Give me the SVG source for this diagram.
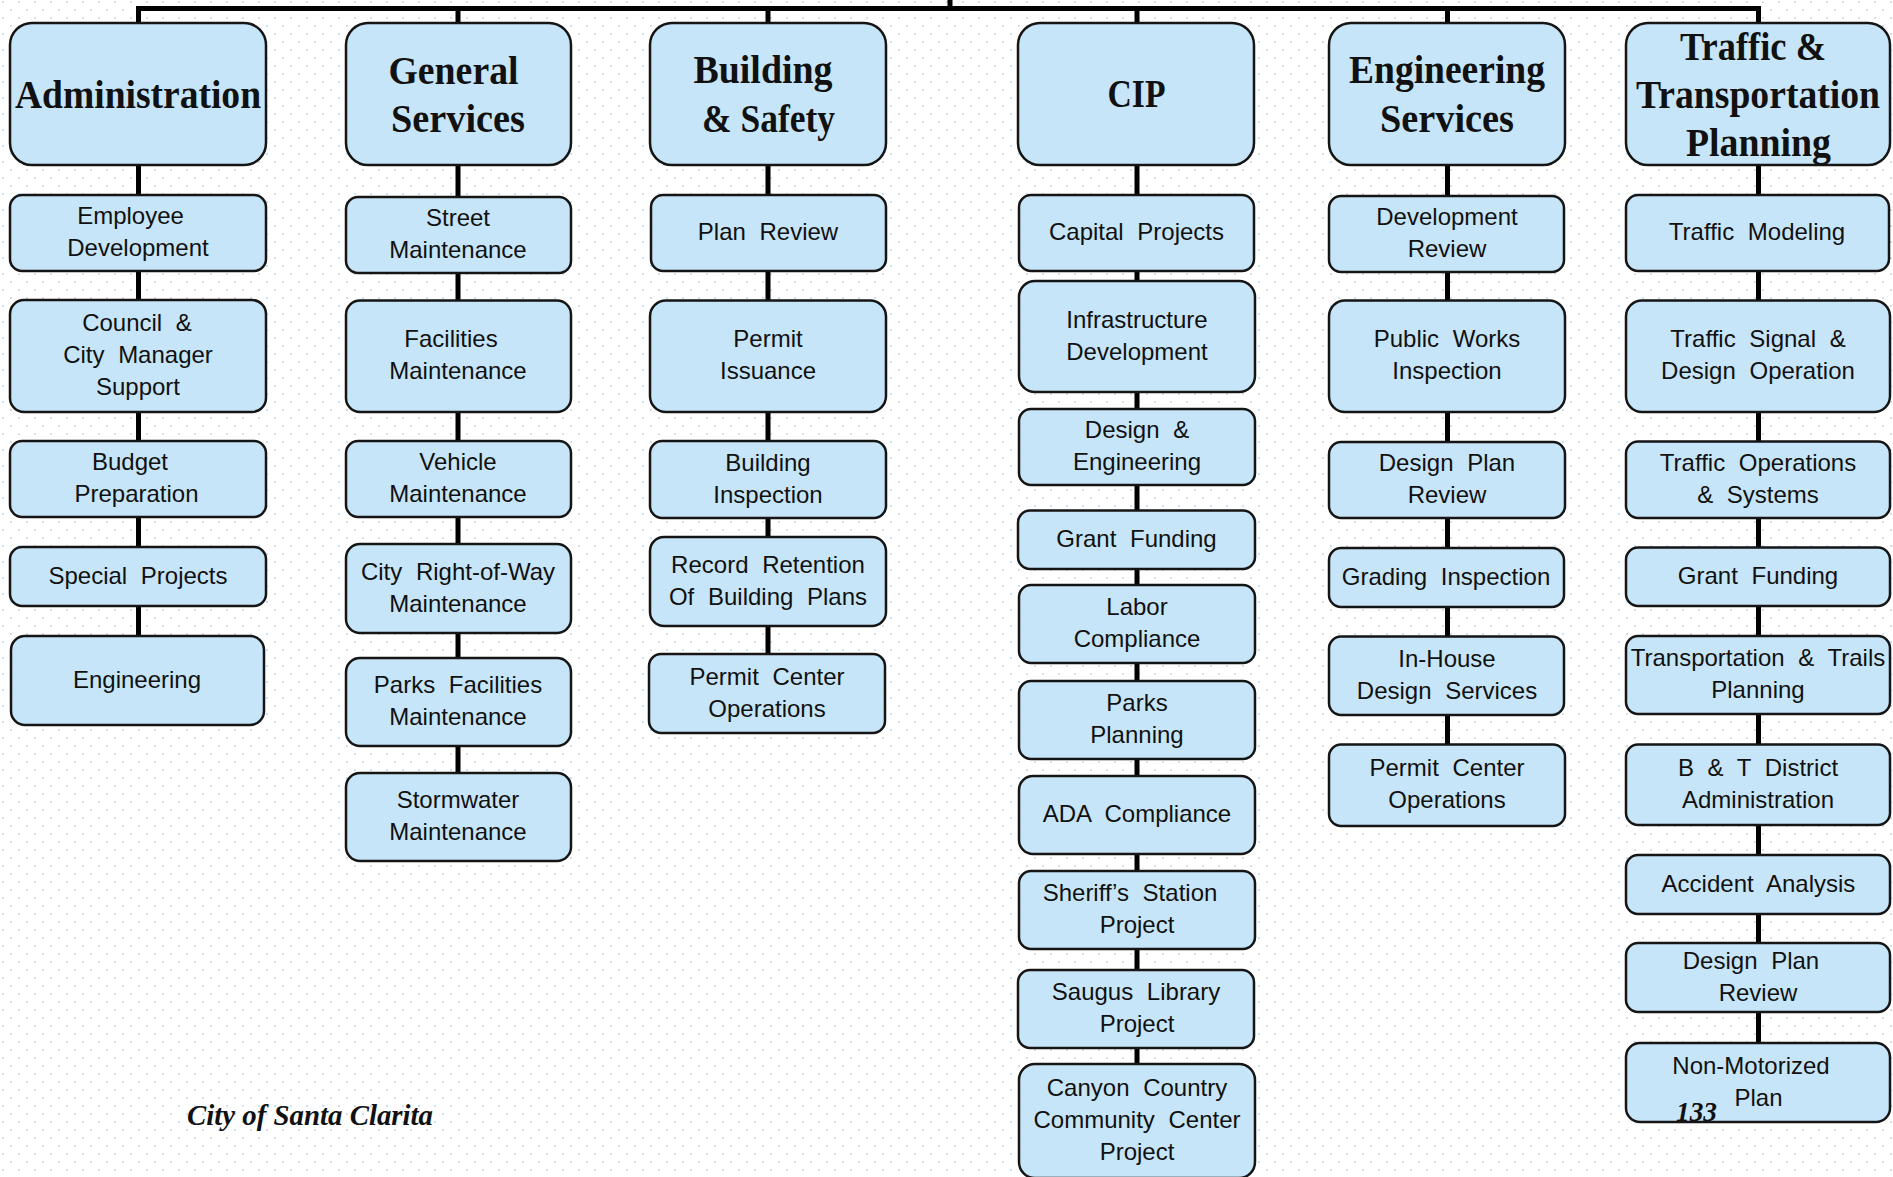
<svg xmlns="http://www.w3.org/2000/svg" width="1893" height="1177" viewBox="0 0 1893 1177">
  <defs>
    <pattern id="dots" width="16" height="16" patternUnits="userSpaceOnUse">
      <rect x="2" y="1" width="2" height="2" fill="#c9e3f5"/>
      <rect x="10" y="9" width="2" height="2" fill="#c9e3f5"/>
    </pattern>
    <style>
      .box { fill: #c7e5f8; stroke: #151515; stroke-width: 2.5; }
      .hd { font-family: "Liberation Serif", "Times New Roman", serif; font-weight: bold; font-size: 40px; fill: #111; text-anchor: middle; }
      .sub { font-family: "Liberation Sans", Arial, sans-serif; font-size: 24px; fill: #111; text-anchor: middle; word-spacing: 7px; transform: translateY(-1.3px); }
      .conn { fill: none; stroke: #000; stroke-width: 5; stroke-linejoin: miter; }
      .foot { font-family: "Liberation Serif", "Times New Roman", serif; font-weight: bold; font-style: italic; fill: #111; }
    </style>
  </defs>

  <!-- page background with dot grid -->
  <rect width="1893" height="1177" fill="#ffffff"/>
  <rect width="1893" height="1177" fill="url(#dots)"/>

  <!-- connectors -->
  <g id="connectors" class="conn">
    <path d="M950 0 V8.5"/>
    <path d="M138.5 23 V8.5 H1758.5 V23"/>
    <path d="M458 8.5 V23 M768 8.5 V23 M1137 8.5 V23 M1447.5 8.5 V23"/>
    <path d="M138.5 165 V195 M138.5 271 V300 M138.5 412 V441 M138.5 517 V547 M138.5 606 V636"/>
    <path d="M458 165 V197 M458 273 V300.5 M458 412 V441 M458 517 V544 M458 633 V658 M458 746 V773"/>
    <path d="M768 165 V195 M768 271 V300.5 M768 412 V441 M768 518 V537 M768 626 V654"/>
    <path d="M1137 165 V195 M1137 271 V281 M1137 392 V409 M1137 485 V510.5 M1137 569 V585 M1137 663 V681 M1137 759 V776 M1137 854 V871 M1137 949 V970 M1137 1048 V1064"/>
    <path d="M1447.5 165 V196 M1447.5 272 V300.5 M1447.5 412 V442 M1447.5 518 V548 M1447.5 607 V636.5 M1447.5 715 V744.5"/>
    <path d="M1758.5 165 V195 M1758.5 271 V300.5 M1758.5 412 V441.5 M1758.5 518 V547.5 M1758.5 606 V636 M1758.5 714 V744.5 M1758.5 825 V855 M1758.5 914 V943 M1758.5 1012 V1043"/>
  </g>

  <!-- Administration column -->
  <g id="administration">
    <rect class="box" x="10" y="23" width="256" height="142" rx="22"/>
    <text class="hd" x="138" y="108" textLength="246" lengthAdjust="spacingAndGlyphs">Administration</text>
  </g>
  <g id="employee-development">
    <rect class="box" x="10" y="195" width="256" height="76" rx="12"/>
    <text class="sub" x="130.5" y="225.5">Employee</text>
    <text class="sub" x="138" y="257.5">Development</text>
  </g>
  <g id="council-city-manager-support">
    <rect class="box" x="10" y="300" width="256" height="112" rx="14"/>
    <text class="sub" x="137" y="332.5">Council &amp;</text>
    <text class="sub" x="138" y="364.5">City Manager</text>
    <text class="sub" x="138" y="396.5">Support</text>
  </g>
  <g id="budget-preparation">
    <rect class="box" x="10" y="441" width="256" height="76" rx="12"/>
    <text class="sub" x="130" y="471.5">Budget</text>
    <text class="sub" x="136.5" y="503.5">Preparation</text>
  </g>
  <g id="special-projects">
    <rect class="box" x="10" y="547" width="256" height="59" rx="12"/>
    <text class="sub" x="138" y="585">Special Projects</text>
  </g>
  <g id="admin-engineering">
    <rect class="box" x="11" y="636" width="253" height="89" rx="14"/>
    <text class="sub" x="137" y="689">Engineering</text>
  </g>

  <!-- General Services column -->
  <g id="general-services">
    <rect class="box" x="346" y="23" width="225" height="142" rx="22"/>
    <text class="hd" x="453.5" y="84" textLength="130" lengthAdjust="spacingAndGlyphs">General</text>
    <text class="hd" x="458" y="132" textLength="134" lengthAdjust="spacingAndGlyphs">Services</text>
  </g>
  <g id="street-maintenance">
    <rect class="box" x="346" y="197" width="225" height="76" rx="12"/>
    <text class="sub" x="458" y="227.5">Street</text>
    <text class="sub" x="458" y="259.5">Maintenance</text>
  </g>
  <g id="facilities-maintenance">
    <rect class="box" x="346" y="300.5" width="225" height="111.5" rx="14"/>
    <text class="sub" x="451" y="348.5">Facilities</text>
    <text class="sub" x="458" y="380.5">Maintenance</text>
  </g>
  <g id="vehicle-maintenance">
    <rect class="box" x="346" y="441" width="225" height="76" rx="12"/>
    <text class="sub" x="458" y="471.5">Vehicle</text>
    <text class="sub" x="458" y="503.5">Maintenance</text>
  </g>
  <g id="right-of-way-maintenance">
    <rect class="box" x="346" y="544" width="225" height="89" rx="14"/>
    <text class="sub" x="458" y="581">City Right-of-Way</text>
    <text class="sub" x="458" y="613">Maintenance</text>
  </g>
  <g id="parks-facilities-maintenance">
    <rect class="box" x="346" y="658" width="225" height="88" rx="14"/>
    <text class="sub" x="458" y="694.5">Parks Facilities</text>
    <text class="sub" x="458" y="726.5">Maintenance</text>
  </g>
  <g id="stormwater-maintenance">
    <rect class="box" x="346" y="773" width="225" height="88" rx="14"/>
    <text class="sub" x="458" y="809.5">Stormwater</text>
    <text class="sub" x="458" y="841.5">Maintenance</text>
  </g>

  <!-- Building & Safety column -->
  <g id="building-safety">
    <rect class="box" x="650" y="23" width="236" height="142" rx="22"/>
    <text class="hd" x="763" y="83" textLength="139" lengthAdjust="spacingAndGlyphs">Building</text>
    <text class="hd" x="768.5" y="132" textLength="133" lengthAdjust="spacingAndGlyphs">&amp; Safety</text>
  </g>
  <g id="plan-review">
    <rect class="box" x="651" y="195" width="235" height="76" rx="12"/>
    <text class="sub" x="768" y="241.5">Plan Review</text>
  </g>
  <g id="permit-issuance">
    <rect class="box" x="650" y="300.5" width="236" height="111.5" rx="16"/>
    <text class="sub" x="768" y="348.5">Permit</text>
    <text class="sub" x="768" y="380.5">Issuance</text>
  </g>
  <g id="building-inspection">
    <rect class="box" x="650" y="441" width="236" height="77" rx="12"/>
    <text class="sub" x="768" y="472">Building</text>
    <text class="sub" x="768" y="504">Inspection</text>
  </g>
  <g id="record-retention">
    <rect class="box" x="650" y="537" width="236" height="89" rx="14"/>
    <text class="sub" x="768" y="574">Record Retention</text>
    <text class="sub" x="768" y="606">Of Building Plans</text>
  </g>
  <g id="bs-permit-center">
    <rect class="box" x="649" y="654" width="236" height="79" rx="12"/>
    <text class="sub" x="767" y="686">Permit Center</text>
    <text class="sub" x="767" y="718">Operations</text>
  </g>

  <!-- CIP column -->
  <g id="cip">
    <rect class="box" x="1018" y="23" width="236" height="142" rx="22"/>
    <text class="hd" x="1136.5" y="107" textLength="58" lengthAdjust="spacingAndGlyphs">CIP</text>
  </g>
  <g id="capital-projects">
    <rect class="box" x="1019" y="195" width="235" height="76" rx="12"/>
    <text class="sub" x="1136.5" y="241.5">Capital Projects</text>
  </g>
  <g id="infrastructure-development">
    <rect class="box" x="1019" y="281" width="236" height="111" rx="16"/>
    <text class="sub" x="1137" y="329">Infrastructure</text>
    <text class="sub" x="1137" y="361">Development</text>
  </g>
  <g id="design-engineering">
    <rect class="box" x="1019" y="409" width="236" height="76" rx="12"/>
    <text class="sub" x="1137" y="439.5">Design &amp;</text>
    <text class="sub" x="1137" y="471.5">Engineering</text>
  </g>
  <g id="cip-grant-funding">
    <rect class="box" x="1018" y="510.5" width="237" height="58.5" rx="12"/>
    <text class="sub" x="1136.5" y="548">Grant Funding</text>
  </g>
  <g id="labor-compliance">
    <rect class="box" x="1019" y="585" width="236" height="78" rx="12"/>
    <text class="sub" x="1137" y="616.5">Labor</text>
    <text class="sub" x="1137" y="648.5">Compliance</text>
  </g>
  <g id="parks-planning">
    <rect class="box" x="1019" y="681" width="236" height="78" rx="12"/>
    <text class="sub" x="1137" y="712.5">Parks</text>
    <text class="sub" x="1137" y="744.5">Planning</text>
  </g>
  <g id="ada-compliance">
    <rect class="box" x="1019" y="776" width="236" height="78" rx="14"/>
    <text class="sub" x="1137" y="823.5">ADA Compliance</text>
  </g>
  <g id="sheriffs-station">
    <rect class="box" x="1019" y="871" width="236" height="78" rx="12"/>
    <text class="sub" x="1130" y="902.5">Sheriff’s Station</text>
    <text class="sub" x="1137" y="934.5">Project</text>
  </g>
  <g id="saugus-library">
    <rect class="box" x="1018" y="970" width="236" height="78" rx="12"/>
    <text class="sub" x="1136" y="1001.5">Saugus Library</text>
    <text class="sub" x="1137" y="1033.5">Project</text>
  </g>
  <g id="canyon-country-community-center">
    <rect class="box" x="1019" y="1064" width="236" height="114" rx="16"/>
    <text class="sub" x="1137" y="1097.5">Canyon Country</text>
    <text class="sub" x="1137" y="1129.5">Community Center</text>
    <text class="sub" x="1137" y="1161.5">Project</text>
  </g>

  <!-- Engineering Services column -->
  <g id="engineering-services">
    <rect class="box" x="1329" y="23" width="236" height="142" rx="22"/>
    <text class="hd" x="1447" y="83" textLength="196" lengthAdjust="spacingAndGlyphs">Engineering</text>
    <text class="hd" x="1447" y="132" textLength="134" lengthAdjust="spacingAndGlyphs">Services</text>
  </g>
  <g id="development-review">
    <rect class="box" x="1329" y="196" width="235" height="76" rx="12"/>
    <text class="sub" x="1447" y="226.5">Development</text>
    <text class="sub" x="1447" y="258.5">Review</text>
  </g>
  <g id="public-works-inspection">
    <rect class="box" x="1329" y="300.5" width="236" height="111.5" rx="16"/>
    <text class="sub" x="1447" y="348.5">Public Works</text>
    <text class="sub" x="1447" y="380.5">Inspection</text>
  </g>
  <g id="es-design-plan-review">
    <rect class="box" x="1329" y="442" width="236" height="76" rx="12"/>
    <text class="sub" x="1447" y="472.5">Design Plan</text>
    <text class="sub" x="1447" y="504.5">Review</text>
  </g>
  <g id="grading-inspection">
    <rect class="box" x="1329" y="548" width="235" height="59" rx="12"/>
    <text class="sub" x="1446" y="586">Grading Inspection</text>
  </g>
  <g id="in-house-design">
    <rect class="box" x="1329" y="636.5" width="235" height="78.5" rx="12"/>
    <text class="sub" x="1447" y="668">In-House</text>
    <text class="sub" x="1447" y="700">Design Services</text>
  </g>
  <g id="es-permit-center">
    <rect class="box" x="1329" y="744.5" width="236" height="81.5" rx="12"/>
    <text class="sub" x="1447" y="777.5">Permit Center</text>
    <text class="sub" x="1447" y="809.5">Operations</text>
  </g>

  <!-- Traffic & Transportation Planning column -->
  <g id="traffic-transportation-planning">
    <rect class="box" x="1626" y="23" width="264" height="142" rx="22"/>
    <text class="hd" x="1753" y="60" textLength="146" lengthAdjust="spacingAndGlyphs">Traffic &amp;</text>
    <text class="hd" x="1758" y="108" textLength="244" lengthAdjust="spacingAndGlyphs">Transportation</text>
    <text class="hd" x="1758.5" y="156" textLength="145" lengthAdjust="spacingAndGlyphs">Planning</text>
  </g>
  <g id="traffic-modeling">
    <rect class="box" x="1626" y="195" width="263" height="76" rx="12"/>
    <text class="sub" x="1757" y="241.5">Traffic Modeling</text>
  </g>
  <g id="traffic-signal-design">
    <rect class="box" x="1626" y="300.5" width="264" height="111.5" rx="16"/>
    <text class="sub" x="1758" y="348.5">Traffic Signal &amp;</text>
    <text class="sub" x="1758" y="380.5">Design Operation</text>
  </g>
  <g id="traffic-operations-systems">
    <rect class="box" x="1626" y="441.5" width="264" height="76.5" rx="12"/>
    <text class="sub" x="1758" y="472">Traffic Operations</text>
    <text class="sub" x="1758" y="504">&amp; Systems</text>
  </g>
  <g id="ttp-grant-funding">
    <rect class="box" x="1626" y="547.5" width="264" height="58.5" rx="12"/>
    <text class="sub" x="1758" y="585">Grant Funding</text>
  </g>
  <g id="transportation-trails-planning">
    <rect class="box" x="1626" y="636" width="264" height="78" rx="12"/>
    <text class="sub" x="1758" y="667.5">Transportation &amp; Trails</text>
    <text class="sub" x="1758" y="699.5">Planning</text>
  </g>
  <g id="bt-district-administration">
    <rect class="box" x="1626" y="744.5" width="264" height="80.5" rx="12"/>
    <text class="sub" x="1758" y="777">B &amp; T District</text>
    <text class="sub" x="1758" y="809">Administration</text>
  </g>
  <g id="accident-analysis">
    <rect class="box" x="1626" y="855" width="264" height="59" rx="12"/>
    <text class="sub" x="1758.5" y="893">Accident Analysis</text>
  </g>
  <g id="ttp-design-plan-review">
    <rect class="box" x="1626" y="943" width="264" height="69" rx="12"/>
    <text class="sub" x="1751" y="970">Design Plan</text>
    <text class="sub" x="1758" y="1002">Review</text>
  </g>
  <g id="non-motorized-plan">
    <rect class="box" x="1626" y="1043" width="264" height="79" rx="14"/>
    <text class="sub" x="1751" y="1075">Non-Motorized</text>
    <text class="sub" x="1758.5" y="1107">Plan</text>
  </g>

  <!-- page footer -->
  <text class="foot" x="187" y="1125" font-size="30" textLength="246" lengthAdjust="spacingAndGlyphs">City of Santa Clarita</text>
  <text class="foot" x="1676" y="1121" font-size="27" textLength="41" lengthAdjust="spacingAndGlyphs">133</text>
</svg>
